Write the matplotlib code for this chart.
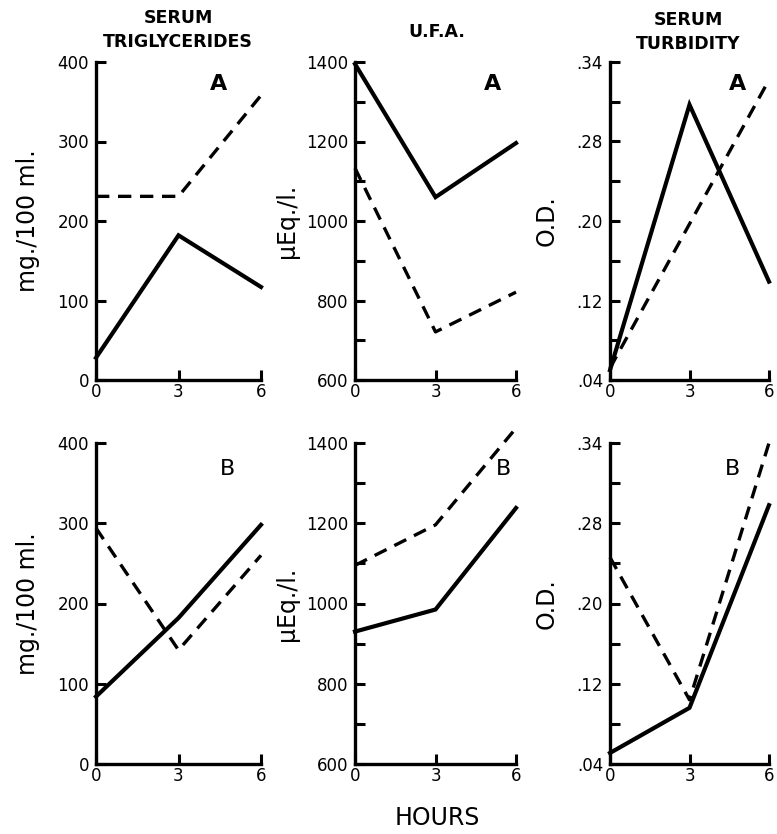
import numpy as np
import matplotlib
matplotlib.use("Agg")
from matplotlib import pyplot as plt

hours = [0, 3, 6]

# panel A (top row)
tg_a_solid = [28, 182, 117]
tg_a_dash = [231, 231, 358]
ufa_a_solid = [1395, 1060, 1196]
ufa_a_dash = [1133, 721, 821]
turb_a_solid = [0.05, 0.317, 0.139]
turb_a_dash = [0.052, 0.197, 0.342]

# panel B (bottom row)
tg_b_solid = [84, 182, 298]
tg_b_dash = [294, 142, 260]
ufa_b_solid = [930, 985, 1238]
ufa_b_dash = [1095, 1196, 1437]
turb_b_solid = [0.051, 0.096, 0.298]
turb_b_dash = [0.246, 0.104, 0.36]

tg_ticks = [0, 100, 200, 300, 400]
tg_labels = ["0", "100", "200", "300", "400"]
ufa_ticks = [600, 800, 1000, 1200, 1400]
ufa_labels = ["600", "800", "1000", "1200", "1400"]
ufa_minor = [700, 900, 1100, 1300]
turb_ticks = [0.04, 0.12, 0.20, 0.28, 0.36]
turb_labels = [".04", ".12", ".20", ".28", ".34"]
turb_minor = [0.08, 0.16, 0.24, 0.32]
hour_labels = ["0", "3", "6"]

col_titles = ["SERUM\nTRIGLYCERIDES", "U.F.A.", "SERUM\nTURBIDITY"]
y_titles = ["mg./100 ml.", "\u03bcEq./l.", "O.D."]

plt.rcParams['font.family'] = ['DejaVu Sans']
fig = plt.figure(figsize=(7.77, 8.34), dpi=100)
W, H = 777.0, 834.0

cols = [(96, 261), (355, 516), (610, 769)]
rows = [(62, 380), (443, 764)]

def make_ax(c, r):
    x0, x1 = cols[c]
    y0, y1 = rows[r]
    return fig.add_axes([x0 / W, 1 - y1 / H, (x1 - x0) / W, (y1 - y0) / H])

panels = [
    [(tg_a_solid, tg_a_dash), (ufa_a_solid, ufa_a_dash), (turb_a_solid, turb_a_dash)],
    [(tg_b_solid, tg_b_dash), (ufa_b_solid, ufa_b_dash), (turb_b_solid, turb_b_dash)],
]
ylims = [(0, 400), (600, 1400), (0.04, 0.36)]
yticks = [(tg_ticks, tg_labels, None), (ufa_ticks, ufa_labels, ufa_minor),
          (turb_ticks, turb_labels, turb_minor)]
letter_pos = [[(0.74, 0.93), (0.857, 0.93), (0.80, 0.93)],
              [(0.80, 0.92), (0.92, 0.92), (0.77, 0.92)]]
ylabel_x = [28, 287, 547]

for r in range(2):
    for c in range(3):
        ax = make_ax(c, r)
        solid, dash = panels[r][c]
        ax.plot(hours, solid, color='black', lw=3.0, solid_joinstyle='miter', clip_on=False)
        ax.plot(hours, dash, color='black', lw=2.4, linestyle=(0, (4, 2.6)), clip_on=False)
        ax.set_xlim(0, 6)
        ax.set_ylim(*ylims[c])
        for s in ['top', 'right']:
            ax.spines[s].set_visible(False)
        for s in ['left', 'bottom']:
            ax.spines[s].set_linewidth(2.4)
        tk, tl, mn = yticks[c]
        ax.set_yticks(tk)
        ax.set_yticklabels(tl)
        if mn is not None:
            ax.set_yticks(mn, minor=True)
        ax.set_xticks(hours)
        ax.set_xticklabels(hour_labels)
        ax.tick_params(which='both', direction='in', length=7, width=2.2, labelsize=12, pad=5)
        ax.tick_params(axis='x', pad=2)
        ax.text(*letter_pos[r][c], "AB"[r], transform=ax.transAxes, fontsize=16,
                fontweight='bold' if r == 0 else 'normal', ha='center', va='center')
        y0, y1 = rows[r]
        fig.text(ylabel_x[c] / W, 1 - (y0 + y1) / 2 / H, y_titles[c], rotation=90,
                 fontsize=17, ha='center', va='center')

# column titles
fig.text(178 / W, 1 - 30 / H, col_titles[0], fontsize=12.5, fontweight='bold',
         ha='center', va='center', linespacing=1.4)
fig.text(437 / W, 1 - 32 / H, col_titles[1], fontsize=12.5, fontweight='bold',
         ha='center', va='center')
fig.text(688 / W, 1 - 32 / H, col_titles[2], fontsize=12.5, fontweight='bold',
         ha='center', va='center', linespacing=1.4)

fig.text(437 / W, 1 - 818 / H, "HOURS", fontsize=17, ha='center', va='center')

fig.savefig("out.png", dpi=100, facecolor='white')
